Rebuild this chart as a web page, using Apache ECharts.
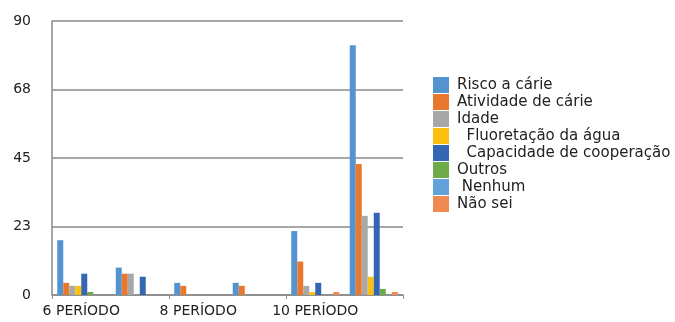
<!DOCTYPE html>
<html>
<head>
<meta charset="utf-8">
<script src="https://cdn.jsdelivr.net/npm/echarts@6/dist/echarts.min.js"></script>
<style>
  html, body { margin: 0; padding: 0; background: #fff; }
  #chart { width: 675px; height: 322px; }
</style>
</head>
<body>
<div id="chart"></div>
<script>
// Periods along the x axis (every other label is shown)
const periods = ['6 PERÍODO', '7 PERÍODO', '8 PERÍODO', '9 PERÍODO', '10 PERÍODO', '11 PERÍODO'];

// Responses per reason, one value per period
const riscoCarie      = [18, 9, 4, 4, 21, 82];
const atividadeCarie  = [4, 7, 3, 3, 11, 43];
const idade           = [3, 7, 0, 0, 3, 26];
const fluoretacao     = [3, 0, 0, 0, 1, 6];
const capacidade      = [7, 6, 0, 0, 4, 27];
const outros          = [1, 0, 0, 0, 0, 2];
const nenhum          = [0, 0, 0, 0, 0, 0];
const naoSei          = [0, 0, 0, 0, 1, 1];

// Y axis ticks
const yTicks = [0, 23, 45, 68, 90];

const seriesDefs = [
  { name: 'Risco a cárie', data: riscoCarie, color: '#5393d0' },
  { name: 'Atividade de cárie', data: atividadeCarie, color: '#e9782f' },
  { name: 'Idade', data: idade, color: '#a8a8a8' },
  { name: '  Fluoretação da água', data: fluoretacao, color: '#fcc010' },
  { name: '  Capacidade de cooperação', data: capacidade, color: '#3466b4' },
  { name: 'Outros', data: outros, color: '#6eaa48' },
  { name: ' Nenhum', data: nenhum, color: '#62a2da' },
  { name: 'Não sei', data: naoSei, color: '#ee8a52' }
];

const chart = echarts.init(document.getElementById('chart'));
const font = 'DejaVu Sans';

chart.setOption({
  animation: false,
  textStyle: { fontFamily: font },
  grid: { left: 52, right: 272, top: 21, bottom: 27, containLabel: false },
  legend: {
    orient: 'vertical',
    left: 433,
    top: 77,
    padding: 0,
    itemWidth: 16,
    itemHeight: 16,
    itemGap: 1,
    icon: 'rect',
    textStyle: { fontFamily: font, fontSize: 15, lineHeight: 16, color: '#222', padding: [0, 0, 0, 3] },
    data: seriesDefs.map(s => s.name)
  },
  xAxis: {
    type: 'category',
    data: periods,
    axisLine: { lineStyle: { color: '#8a8a8a', width: 1.5 } },
    axisTick: { show: true, length: 4, lineStyle: { color: '#8a8a8a' } },
    axisLabel: { interval: 1, margin: 9, fontFamily: font, fontSize: 14, color: '#222' }
  },
  yAxis: {
    type: 'value',
    min: 0,
    max: 90,
    interval: 22.5,
    axisLine: { show: true, lineStyle: { color: '#8a8a8a', width: 1.5 } },
    axisTick: { show: false },
    splitLine: { lineStyle: { color: '#8a8a8a', width: 1.5 } },
    axisLabel: {
      margin: 21,
      fontFamily: font,
      fontSize: 14,
      color: '#222',
      formatter: v => {
        const r = Math.round(v);
        return yTicks.includes(r) ? String(r) : '';
      }
    }
  },
  series: seriesDefs.map(s => ({
    name: s.name,
    type: 'bar',
    data: s.data,
    barWidth: 6,
    barGap: '0%',
    barCategoryGap: '17%',
    itemStyle: { color: s.color }
  }))
});
</script>
</body>
</html>
